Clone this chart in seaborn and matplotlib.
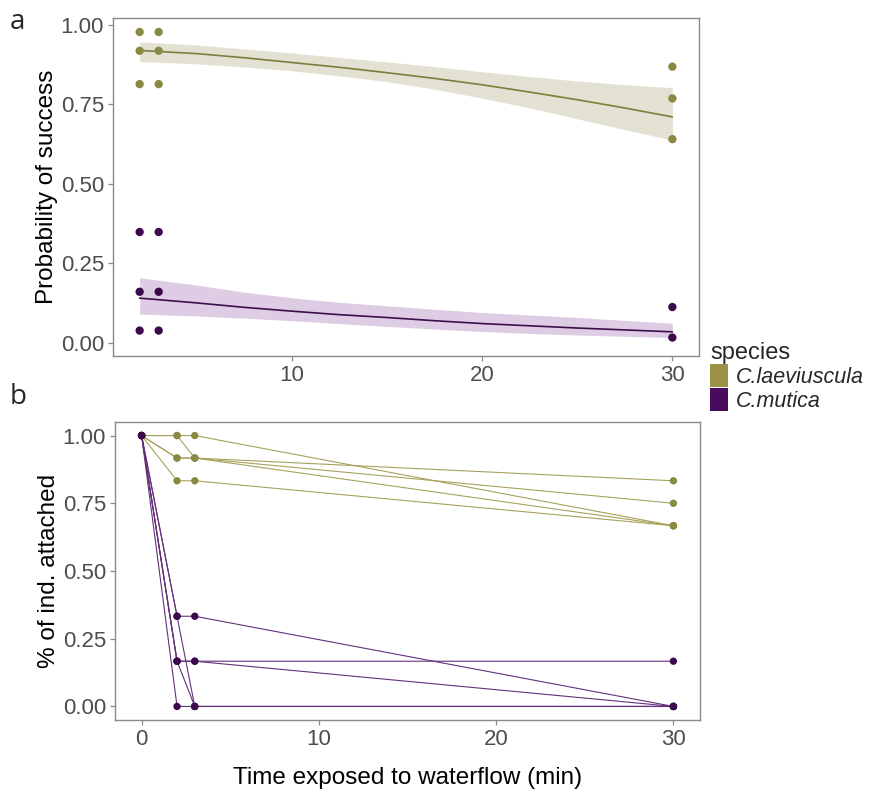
import numpy as np
import pandas as pd
import matplotlib
matplotlib.use("Agg")
import matplotlib.pyplot as plt
import seaborn as sns
from matplotlib.patches import Patch

# ---------------- data ----------------
species = ["C.laeviuscula", "C.mutica"]

# panel a: observed proportions
a_laev_x = [2, 2, 2, 3, 3, 3, 30, 30, 30]
a_laev_y = [0.978, 0.919, 0.814, 0.978, 0.919, 0.814, 0.869, 0.769, 0.641]
a_mut_x = [2, 2, 2, 3, 3, 3, 30, 30]
a_mut_y = [0.349, 0.161, 0.039, 0.349, 0.161, 0.039, 0.113, 0.017]

# panel a: fitted curves and confidence bands
fit_x = [2, 5, 7.5, 10, 12.5, 15, 17.5, 20, 22.5, 25, 27.5, 30]
fit_laev = [0.920, 0.910, 0.897, 0.882, 0.867, 0.850, 0.832, 0.812, 0.789, 0.765, 0.739, 0.711]
lo_laev = [0.885, 0.878, 0.868, 0.856, 0.840, 0.822, 0.798, 0.770, 0.739, 0.705, 0.671, 0.638]
hi_laev = [0.947, 0.937, 0.925, 0.912, 0.898, 0.884, 0.869, 0.853, 0.838, 0.824, 0.812, 0.803]
fit_mut = [0.141, 0.126, 0.112, 0.100, 0.089, 0.080, 0.070, 0.061, 0.054, 0.047, 0.041, 0.035]
lo_mut = [0.091, 0.085, 0.078, 0.070, 0.061, 0.052, 0.044, 0.036, 0.030, 0.025, 0.021, 0.017]
hi_mut = [0.205, 0.182, 0.160, 0.142, 0.128, 0.117, 0.106, 0.096, 0.088, 0.080, 0.071, 0.062]

# panel b: trajectories of replicate groups
times_b = [0, 2, 3, 30]
laev_reps = [
    [1.0, 1.0, 1.0, 0.667],
    [1.0, 1.0, 0.917, 0.833],
    [1.0, 0.917, 0.917, 0.750],
    [1.0, 0.917, 0.917, 0.667],
    [1.0, 0.833, 0.833, 0.667],
]
mut_reps = [
    [1.0, 0.333, 0.333, 0.0],
    [1.0, 0.333, 0.0, 0.0],
    [1.0, 0.167, 0.167, 0.167],
    [1.0, 0.167, 0.167, 0.0],
    [1.0, 0.167, 0.0, 0.0],
    [1.0, 0.0, 0.0, 0.0],
]

a_ticks_y = [0.00, 0.25, 0.50, 0.75, 1.00]
a_ticks_x = [10, 20, 30]
b_ticks_x = [0, 10, 20, 30]

# ---------------- styling ----------------
pt_col = {"C.laeviuscula": "#8A8944", "C.mutica": "#3C0A4C"}
fit_col = {"C.laeviuscula": "#7E7D3C", "C.mutica": "#3A0F4A"}
band_col = {"C.laeviuscula": "#E3E2D2", "C.mutica": "#DDCCE3"}
line_b_col = {"C.laeviuscula": "#A6A25C", "C.mutica": "#63307A"}
key_col = ["#9A9346", "#4A0B5C"]

sns.set_theme(style="white")
plt.rcParams["font.family"] = ["Liberation Sans", "DejaVu Sans"]

fig = plt.figure(figsize=(8.71, 7.96), dpi=100)
W, H = 871, 796
ax_a = fig.add_axes([113 / W, 1 - 356 / H, 586 / W, 338 / H])
ax_b = fig.add_axes([115 / W, 1 - 720 / H, 585 / W, 298 / H])

# ---------------- panel a ----------------
df_pts_a = pd.concat([
    pd.DataFrame({"time": a_laev_x, "p": a_laev_y, "species": species[0]}),
    pd.DataFrame({"time": a_mut_x, "p": a_mut_y, "species": species[1]}),
])
df_fit = pd.concat([
    pd.DataFrame({"time": fit_x, "fit": fit_laev, "lo": lo_laev, "hi": hi_laev, "species": species[0]}),
    pd.DataFrame({"time": fit_x, "fit": fit_mut, "lo": lo_mut, "hi": hi_mut, "species": species[1]}),
])
for sp in species:
    d = df_fit[df_fit["species"] == sp]
    ax_a.fill_between(d["time"], d["lo"], d["hi"], color=band_col[sp], lw=0, zorder=1)
sns.lineplot(data=df_fit, x="time", y="fit", hue="species", hue_order=species,
             palette=fit_col, linewidth=1.2, legend=False, ax=ax_a, zorder=2)
sns.scatterplot(data=df_pts_a, x="time", y="p", hue="species", hue_order=species,
                palette=pt_col, s=36, linewidth=0, legend=False, ax=ax_a, zorder=3)
ax_a.set_xlim(0.6, 31.4)
ax_a.set_ylim(-0.041, 1.022)
ax_a.set_xticks(a_ticks_x)
ax_a.set_yticks(a_ticks_y)
ax_a.set_yticklabels([f"{v:.2f}" for v in a_ticks_y])
ax_a.set_xlabel("")
ax_a.set_ylabel("Probability of success", fontsize=17.5, color="black", labelpad=2)

# ---------------- panel b ----------------
rows = []
for sp, reps in zip(species, [laev_reps, mut_reps]):
    for i, r in enumerate(reps):
        for t, v in zip(times_b, r):
            rows.append({"time": t, "prop": v, "species": sp, "rep": f"{sp}_{i}"})
df_b = pd.DataFrame(rows)
sns.lineplot(data=df_b, x="time", y="prop", hue="species", hue_order=species,
             units="rep", estimator=None, palette=line_b_col, linewidth=0.8,
             legend=False, ax=ax_b, zorder=2)
sns.scatterplot(data=df_b, x="time", y="prop", hue="species", hue_order=species,
                palette=pt_col, s=28, linewidth=0, legend=False, ax=ax_b, zorder=3)
ax_b.set_xlim(-1.5, 31.5)
ax_b.set_ylim(-0.05, 1.05)
ax_b.set_xticks(b_ticks_x)
ax_b.set_yticks(a_ticks_y)
ax_b.set_yticklabels([f"{v:.2f}" for v in a_ticks_y])
ax_b.set_xlabel("Time exposed to waterflow (min)", fontsize=17.5, color="black", labelpad=12)
ax_b.set_ylabel("% of ind. attached", fontsize=17.5, color="black", labelpad=2)

for ax in (ax_a, ax_b):
    for s in ax.spines.values():
        s.set_visible(True)
        s.set_color("#8A8A8A")
        s.set_linewidth(1.0)
    ax.tick_params(axis="both", which="major", direction="out", length=3.5, width=0.9,
                   color="#8A8A8A", labelcolor="#4D4D4D", labelsize=16, pad=3,
                   left=True, bottom=True)
    ax.grid(False)
    ax.set_facecolor("white")

# panel letters
fig.text(10 / W, 1 - 22 / H, "a", fontsize=20, ha="left", va="center", family=["Open Sans", "DejaVu Sans"])
fig.text(10 / W, 1 - 397 / H, "b", fontsize=20, ha="left", va="center", family=["Open Sans", "DejaVu Sans"])

# legend
handles = [Patch(facecolor=c, edgecolor="none") for c in key_col]
fig.legend(handles, species, title="species", loc="upper left",
           bbox_to_anchor=(710 / W, 1 - 342 / H), frameon=False,
           prop={"style": "italic", "size": 15.5},
           title_fontproperties={"size": 17}, alignment="left",
           handlelength=0.85, handleheight=1.3, labelspacing=0.0,
           handletextpad=0.35, borderpad=0, borderaxespad=0)

fig.savefig("out.png", dpi=100, facecolor="white")
